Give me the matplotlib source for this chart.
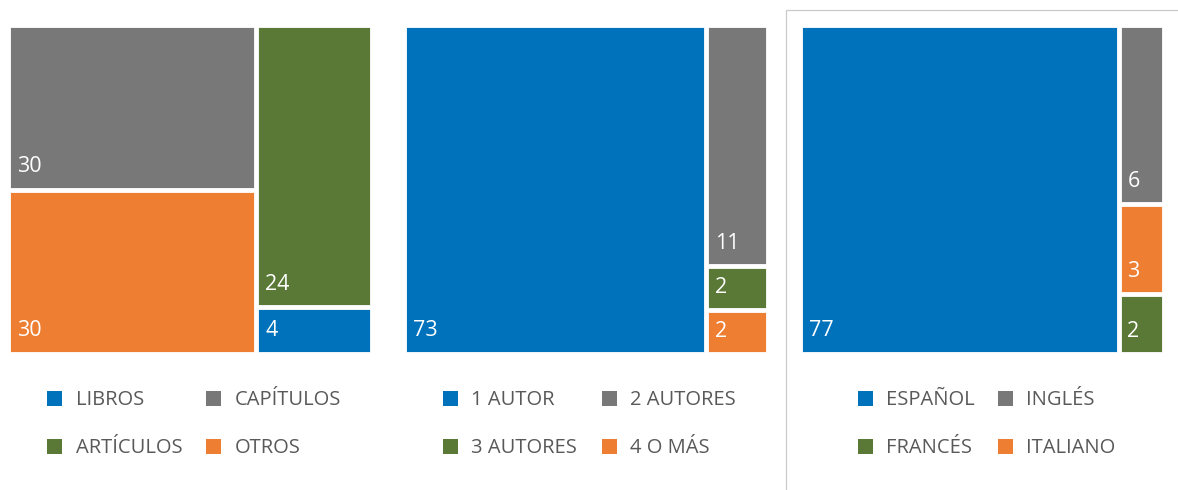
import matplotlib.pyplot as plt
from matplotlib.patches import Rectangle

plt.rcParams['font.family'] = ['Open Sans', 'DejaVu Sans']

# data
tipo_labels = ['LIBROS', 'CAPÍTULOS', 'ARTÍCULOS', 'OTROS']
tipo_values = [4, 30, 24, 30]
autores_labels = ['1 AUTOR', '2 AUTORES', '3 AUTORES', '4 O MÁS']
autores_values = [73, 11, 2, 2]
idioma_labels = ['ESPAÑOL', 'INGLÉS', 'FRANCÉS', 'ITALIANO']
idioma_values = [77, 6, 2, 3]

# which tiles go in which treemap column (indices, top to bottom)
tipo_cols = [[1, 3], [2, 0]]
autores_cols = [[0], [1, 2, 3]]
idioma_cols = [[0], [1, 3, 2]]

colors = ['#0072BC', '#787878', '#5A7836', '#EE7E32']
legend_color = '#595959'

FW, FH = 1178, 490
fig = plt.figure(figsize=(FW / 100, FH / 100), dpi=100)

# panel 3 frame
fig.patches.append(Rectangle((786.5 / FW, -0.1), 0.5, (FH - 9.5) / FH + 0.1,
                             transform=fig.transFigure, fill=False,
                             edgecolor='#C9C9C9', lw=0.9))

panels = [
    (tipo_labels, tipo_values, tipo_cols, 8, (47, 206)),
    (autores_labels, autores_values, autores_cols, 404, (443, 602)),
    (idioma_labels, idioma_values, idioma_cols, 800, (858, 998)),
]

W, H = 364, 329
gap = 2
for labels, values, cols, left, leg_x in panels:
    ax = fig.add_axes([left / FW, (FH - 25 - H) / FH, W / FW, H / FH])
    ax.set_xlim(0, W)
    ax.set_ylim(0, H)
    ax.axis('off')
    total = sum(values)
    x0 = 0
    for col in cols:
        csum = sum(values[i] for i in col)
        cw = W * csum / total
        ytop = H
        for i in col:
            h = H * values[i] / csum
            ax.add_patch(Rectangle((x0 + gap, ytop - h + gap), cw - 2 * gap, h - 2 * gap,
                                   facecolor=colors[i], edgecolor='white', lw=0.6))
            ax.text(x0 + gap + 7, ytop - h + gap + 21, str(values[i]), color='white',
                    fontsize=15.5, va='center', ha='left')
            ytop -= h
        x0 += cw

    # legend
    for k, lab in enumerate(labels):
        row, c = divmod(k, 2)
        yc = [398, 446][row]
        mx = leg_x[c]
        fig.patches.append(Rectangle((mx / FW, (FH - yc - 7.5) / FH), 15 / FW, 15 / FH,
                                     transform=fig.transFigure, facecolor=colors[k],
                                     edgecolor='none'))
        fig.text((mx + 28.5) / FW, (FH - yc - 2) / FH, lab, color=legend_color,
                 fontsize=14.5, va='center', ha='left')

fig.savefig('out.png', dpi=100)
plt.close(fig)
